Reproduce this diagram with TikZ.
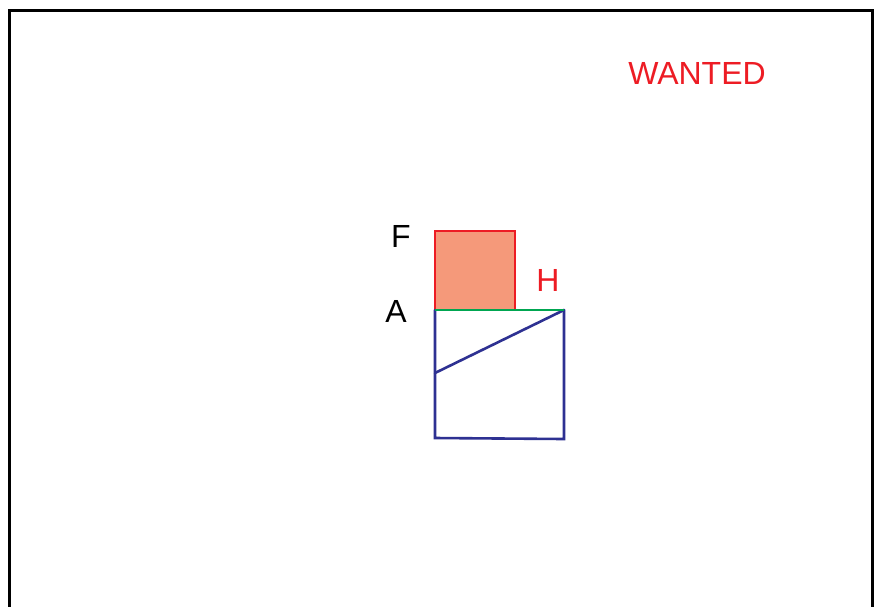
\documentclass[tikz,border=0pt]{standalone}
\usepackage{fontspec}
\setmainfont{Liberation Sans}
\definecolor{fred}{HTML}{ED1C24}
\definecolor{fsalmon}{HTML}{F5997A}
\definecolor{fblue}{HTML}{2E3192}
\definecolor{fgreen}{HTML}{00A651}
\begin{document}
\begin{tikzpicture}[x=1pt,y=-1pt,
  lbl/.style={inner sep=0pt,font=\fontsize{32}{32}\selectfont},
  frameline/.style={draw=black,line width=3pt},
  blueline/.style={draw=fblue,line width=2.6pt,line cap=round},
  greenline/.style={draw=fgreen,line width=2.4pt},
  redbox/.style={draw=fred,fill=fsalmon,line width=2.4pt}]
\useasboundingbox (0,0) rectangle (875,606);
\fill[white] (0,0) rectangle (875,606);
% frame
\coordinate (bl) at (9,607);
\coordinate (tl) at (9,10);
\coordinate (tr) at (872,10);
\coordinate (br) at (872,607);
\draw[frameline] (bl) -- (tl) -- (tr) -- (br);
% points
\coordinate (f1) at (435,231);
\coordinate (f2) at (515,310);
\coordinate (a) at (435,310);
\coordinate (h) at (564,310);
\coordinate (d) at (564,439);
\coordinate (c) at (435,438);
\coordinate (m) at (435,373);
% red square
\draw[redbox] (f1) rectangle (f2);
% blue square
\draw[blueline] (a) -- (c) -- (d) -- (h);
\draw[blueline] (m) -- (h);
\draw[greenline] (a) -- (h);
% labels
\node[lbl] (lF) at (401,236) {F};
\node[lbl] (lA) at (396,311) {A};
\node[lbl,text=fred] (lH) at (548,280) {H};
\node[lbl,text=fred] (lW) at (697,73) {WANTED};
\end{tikzpicture}
\end{document}
